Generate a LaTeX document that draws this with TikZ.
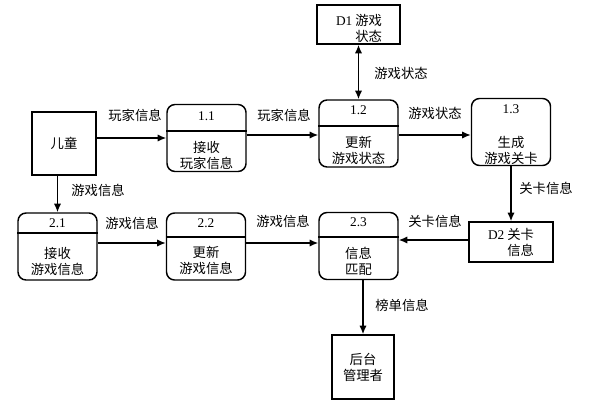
\documentclass[tikz,border=0pt]{standalone}
\usepackage{fontspec}
\setmainfont{Liberation Serif}
\newfontfamily\cjk{Noto Sans CJK SC}
\usetikzlibrary{arrows.meta}
\begin{document}
\begin{tikzpicture}[x=0.75pt,y=-0.75pt,
  every node/.style={font=\cjk\fontsize{10pt}{12pt}\selectfont, inner sep=0pt},
  ent/.style={draw, line width=1.1pt},
  proc/.style={draw, line width=1.1pt, rounded corners=6pt, minimum width=59.25pt, minimum height=50.25pt},
  div/.style={line width=1pt},
  arr/.style={line width=1.1pt, -{Latex[length=6.5pt,width=5.5pt]}},
  darr/.style={line width=1.1pt, {Latex[length=6.5pt,width=5.5pt]}-{Latex[length=6.5pt,width=5.5pt]}},
  lbl/.style={font=\cjk\fontsize{10pt}{12pt}\selectfont}
]
\useasboundingbox (0,0) rectangle (591,406);
% external entities and stores
\node[ent, minimum width=48pt, minimum height=47.25pt] (child) at (64,143.5) {儿童};
\node[ent, minimum width=46.5pt, minimum height=48pt, align=center] (admin) at (363,367) {后台\\管理者};
\node[ent, minimum width=62.25pt, minimum height=29.25pt] (d1) at (358.5,24.5) {};
\node[align=right] (d1t) at (359,28) {{\rmfamily D1} 游戏\\状态};
\node[ent, minimum width=63pt, minimum height=30pt] (d2) at (511,242) {};
\node[align=right] (d2t) at (511,242) {{\rmfamily D2} 关卡\\信息};
% processes
\node[proc] (p11) at (206.5,138) {};
\node[proc] (p12) at (358.5,133.5) {};
\node[proc] (p13) at (511,132) {};
\node[proc] (p21) at (57.5,246.5) {};
\node[proc] (p22) at (206,246.5) {};
\node[proc] (p23) at (358.5,246) {};
\draw[div] (p11.west |- 0,131) -- (p11.east |- 0,131);
\draw[div] (p12.west |- 0,126) -- (p12.east |- 0,126);
\draw[div] (p21.west |- 0,233) -- (p21.east |- 0,233);
\draw[div] (p22.west |- 0,237) -- (p22.east |- 0,237);
\draw[div] (p23.west |- 0,237) -- (p23.east |- 0,237);
\node[font=\rmfamily\fontsize{10pt}{12pt}\selectfont] (n11) at (206.5,116) {1.1};
\node[font=\rmfamily\fontsize{10pt}{12pt}\selectfont] (n12) at (358.5,110) {1.2};
\node[font=\rmfamily\fontsize{10pt}{12pt}\selectfont] (n13) at (511,109) {1.3};
\node[font=\rmfamily\fontsize{10pt}{12pt}\selectfont] (n21) at (57.5,223) {2.1};
\node[font=\rmfamily\fontsize{10pt}{12pt}\selectfont] (n22) at (206,223) {2.2};
\node[font=\rmfamily\fontsize{10pt}{12pt}\selectfont] (n23) at (358.5,222) {2.3};
\node[align=center] (t11) at (206.5,155) {接收\\玩家信息};
\node[align=center] (t12) at (358.5,150.5) {更新\\游戏状态};
\node[align=center] (t13) at (511,150.5) {生成\\游戏关卡};
\node[align=center] (t21) at (57.5,261) {接收\\游戏信息};
\node[align=center] (t22) at (206,260) {更新\\游戏信息};
\node[align=center] (t23) at (358.5,261.5) {信息\\匹配};
% flows
\draw[arr] (child.east |- p11.west) -- (p11.west);
\draw[arr] (p11.east |- 0,135) -- (p12.west |- 0,135);
\draw[arr] (p12.east |- 0,135) -- (p13.west |- 0,135);
\draw[darr] (d1.south) -- (p12.north);
\draw[arr] (p13.south) -- (d2.north);
\draw[arr] (d2.west |- 0,240) -- (p23.east |- 0,240);
\draw[arr] (child.south -| p21.north) -- (p21.north);
\draw[arr] (p21.east |- 0,243) -- (p22.west |- 0,243);
\draw[arr] (p22.east |- 0,243) -- (p23.west |- 0,243);
\draw[arr] (p23.south -| admin.north) -- (admin.north);
% labels
\node[lbl] (l1) at (135,115) {玩家信息};
\node[lbl] (l2) at (284,115) {玩家信息};
\node[lbl] (l3) at (401,73) {游戏状态};
\node[lbl] (l4) at (435,113) {游戏状态};
\node[lbl] (l5) at (546,188) {关卡信息};
\node[lbl] (l6) at (98,190) {游戏信息};
\node[lbl] (l7) at (132,223) {游戏信息};
\node[lbl] (l8) at (283,221) {游戏信息};
\node[lbl] (l9) at (435,221) {关卡信息};
\node[lbl] (l10) at (402,305) {榜单信息};
\end{tikzpicture}
\end{document}
